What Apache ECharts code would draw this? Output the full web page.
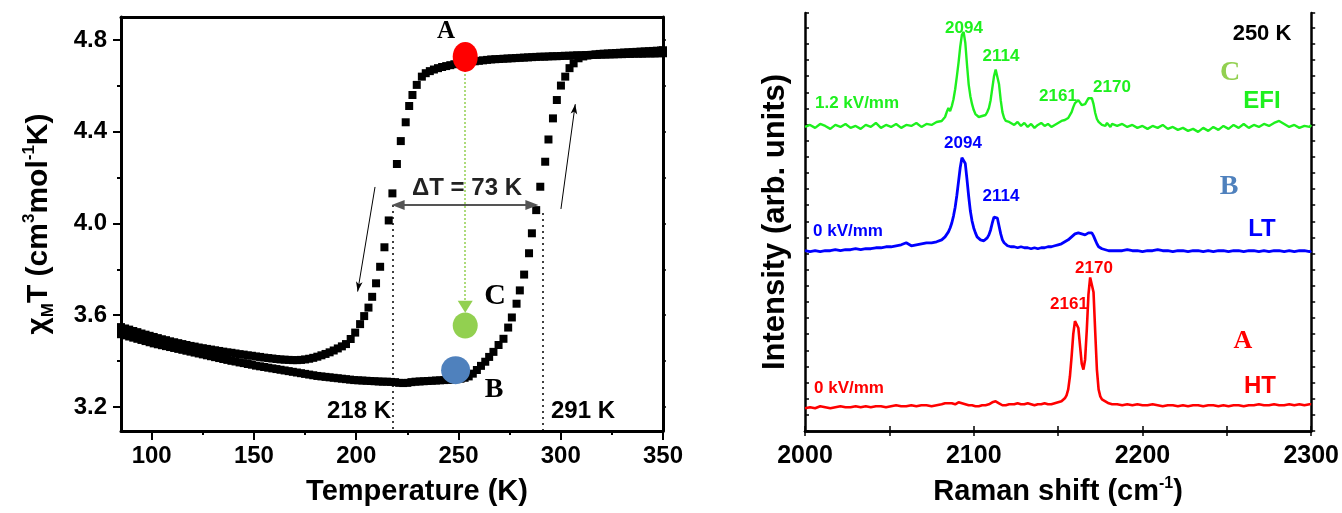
<!DOCTYPE html>
<html><head><meta charset="utf-8">
<script src="https://cdn.jsdelivr.net/npm/echarts@6/dist/echarts.min.js"></script>
<style>html,body{margin:0;padding:0;background:#fff}#c{width:1342px;height:513px}</style>
</head><body><div id="c"></div>
<script>
// ===== Left panel: chi_M T vs T (hysteresis) =====
const coolingBranch = [
[85,3.548],[87,3.542],[89,3.537],[91,3.531],[93,3.526],[95,3.520],[97,3.515],[99,3.510],[101,3.505],[103,3.500],
[105,3.495],[107,3.491],[109,3.486],[111,3.482],[113,3.478],[115,3.474],[117,3.470],[119,3.466],[121,3.463],[123,3.459],
[125,3.456],[127,3.453],[129,3.450],[131,3.447],[133,3.444],[135,3.441],[137,3.438],[139,3.436],[141,3.433],[143,3.430],
[145,3.428],[147,3.425],[149,3.423],[151,3.420],[153,3.418],[155,3.415],[157,3.413],[159,3.411],[161,3.409],[163,3.407],
[165,3.406],[167,3.405],[169,3.404],[171,3.404],[173,3.405],[175,3.407],[177,3.410],[179,3.414],[181,3.419],[183,3.425],
[185,3.431],[187,3.438],[189,3.446],[191,3.455],[193,3.464],[195,3.474],[197.3,3.496],[199.5,3.524],[201.9,3.561],[203.9,3.596],
[206.0,3.633],[207.8,3.680],[209.7,3.739],[211.7,3.811],[213.8,3.896],[215.9,4.013],[217.7,4.131],[219.9,4.259],[221.8,4.359],[224.2,4.441],
[225.9,4.512],[227.5,4.560],[229.6,4.604],[232.1,4.640],[234,4.655],[236,4.664],[238,4.671],[240,4.677],[242,4.682],[244,4.686],
[246,4.690],[248,4.694],[250,4.697],[252,4.700],[254,4.703],[256,4.705],[258,4.707],[260,4.709],[262,4.711],[264,4.713],
[266,4.715],[268,4.716],[270,4.717],[272,4.718],[274,4.719],[276,4.720],[278,4.721],[280,4.722],[282,4.723],[284,4.724],
[286,4.725],[288,4.726],[290,4.727],[292,4.727],[294,4.728],[296,4.729],[298,4.729],[300,4.730],[302,4.731],[304,4.731],
[306,4.732],[308,4.733],[310,4.733],[312,4.734],[314,4.734],[316,4.735],[318,4.735],[320,4.736],[322,4.736],[324,4.737],
[326,4.737],[328,4.738],[330,4.738],[332,4.739],[334,4.739],[336,4.740],[338,4.740],[340,4.740],[342,4.741],[344,4.741],
[346,4.741],[348,4.742],[350,4.742]
];
const heatingBranch = [
[85,3.517],[87,3.512],[89,3.507],[91,3.502],[93,3.497],[95,3.492],[97,3.487],[99,3.482],[101,3.477],[103,3.473],
[105,3.469],[107,3.465],[109,3.461],[111,3.457],[113,3.453],[115,3.449],[117,3.445],[119,3.441],[121,3.437],[123,3.433],
[125,3.429],[127,3.425],[129,3.421],[131,3.417],[133,3.413],[135,3.409],[137,3.405],[139,3.401],[141,3.398],[143,3.394],
[145,3.391],[147,3.387],[149,3.384],[151,3.380],[153,3.377],[155,3.374],[157,3.371],[159,3.368],[161,3.365],[163,3.362],
[165,3.359],[167,3.356],[169,3.353],[171,3.350],[173,3.347],[175,3.344],[177,3.341],[179,3.338],[181,3.335],[183,3.333],
[185,3.331],[187,3.329],[189,3.327],[191,3.325],[193,3.323],[195,3.321],[197,3.319],[199,3.317],[201,3.316],[203,3.315],
[205,3.314],[207,3.313],[209,3.312],[211,3.311],[213,3.310],[215,3.310],[217,3.309],[219,3.308],[221,3.305],[223,3.304],
[225,3.305],[227,3.308],[229,3.310],[231,3.311],[233,3.312],[235,3.313],[237,3.314],[239,3.315],[241,3.316],[243,3.317],
[245,3.318],[247,3.319],[249,3.321],[251,3.323],[253,3.327],[255,3.333],[257,3.345],[259,3.361],[261,3.379],[263.1,3.397],
[265,3.418],[267.1,3.440],[269.6,3.470],[272,3.497],[274.3,3.546],[276.1,3.590],[278.4,3.650],[280,3.708],[282.1,3.777],[284.5,3.870],
[285.9,3.957],[288,4.058],[290,4.160],[292.4,4.269],[294,4.366],[296.2,4.458],[298.1,4.538],[300.1,4.601],[302.2,4.640],[304.3,4.677],
[306.3,4.698],[308.7,4.720],[311,4.728],[313,4.732],[315,4.735],[317,4.737],[319,4.739],[321,4.740],[323,4.741],[325,4.742],
[327,4.743],[329,4.744],[331,4.745],[333,4.746],[335,4.747],[337,4.748],[339,4.749],[341,4.750],[343,4.751],[345,4.752],
[347,4.753],[349,4.754],[350,4.755]
];
// states A (HT), B (LT), C (EFI) marked on the loop
const statePoints = [
  {name:'A', T:253.3, chi:4.726, color:'#ff0000', size:[25,30]},
  {name:'B', T:248.6, chi:3.360, color:'#4f81bd', size:[29,28]},
  {name:'C', T:253.3, chi:3.555, color:'#92d050', size:[25,26]}
];
const tempTicks = [100,150,200,250,300,350];
const tempMinorTicks = [125,175,225,275,325];
const chiTicks = [3.2,3.6,4.0,4.4,4.8];
const chiMinorTicks = [3.4,3.8,4.2,4.6];
const chiRightTicks = [3.2,3.4,3.6,3.8,4.0,4.2,4.4,4.6,4.8];
const transitionTemps = [218,291]; // T1/2 down, T1/2 up

// ===== Right panel: Raman spectra at 250 K =====
const ramanShift = [
2000,2003,2006,2009,2012,2015,2018,2021,2024,2027,2030,2033,2036,2039,2042,2045,2048,2051,2054,2057,2060,2063,2066,2069,2072,2075,2078,2081,
2082,2083,2084,2085,2086,2087,2088,2089,2090,2091,2092,2093,2094,2095,2096,2097,2098,2099,2100,2101,2102,2103,2104,2105,2106,2107,2108,2109,2110,2111,2112,2113,2114,2115,2116,2117,2118,2119,2120,2121,2122,
2124,2126,2128,2130,2132,2134,2136,2138,2140,2142,2144,2146,2148,2150,2152,
2153,2154,2155,2156,2157,2158,2159,2160,2161,2162,2163,2164,2165,2166,2167,2168,2169,2170,2171,2172,2173,2174,2175,2176,2177,2178,2179,2180,2181,2182,
2185,2188,2191,2194,2197,2200,2203,2206,2209,2212,2215,2218,2221,2224,2227,2230,2233,2236,2239,2242,2245,2248,2251,2254,2257,2260,2263,2266,2269,2272,2275,2278,2281,2284,2287,2290,2293,2296,2299,2300
];
const efiIntensity = [
307,309,306,310,308,305,309,307,310,306,308,305,309,307,311,306,309,307,310,306,309,308,311,307,310,309,312,313,
314,317,322,326,323,328,335,345,358,372,388,400,403,392,370,350,338,330,324,320,318,317,316,318,317,319,322,326,334,346,358,365,363,350,334,322,316,313,311,312,310,
309,312,308,311,307,310,306,309,311,308,310,307,309,311,313,
312,314,313,316,318,322,327,331,333,334,332,329,328,330,333,336,337,336,330,321,315,312,312,309,310,308,311,309,307,310,
308,310,307,309,306,308,305,308,306,309,305,307,304,306,303,305,302,306,303,307,304,308,305,309,306,310,306,309,307,310,308,311,313,310,307,309,306,308,307,309
];
const ltIntensity = [
182,181,182,181,182,182,183,182,183,183,184,183,184,184,185,185,186,186,187,188,190,187,188,189,190,190,191,193,
194,196,198,201,205,210,217,226,238,252,266,276,278,270,254,237,222,212,205,200,196,194,193,192,192,193,195,198,203,210,216,218,215,207,199,193,190,188,187,187,186,
186,185,186,185,185,184,185,184,185,185,186,186,187,188,189,
190,191,192,193,195,196,198,199,200,200,199,199,199,198,199,200,201,200,197,193,189,186,185,184,183,183,183,182,182,182,
182,182,183,182,182,181,182,182,183,182,182,181,182,182,181,182,182,181,182,181,182,182,181,182,182,181,182,182,181,182,181,182,182,181,182,181,182,182,181,182
];
const htIntensity = [
23,24,23,25,24,23,24,25,24,24,25,24,25,24,25,25,24,25,26,25,25,26,25,26,26,25,26,27,
27,28,27,28,29,28,28,27,28,29,28,28,27,27,26,26,25,26,25,25,26,25,25,26,25,26,27,27,28,29,29,30,29,28,27,26,27,26,26,27,27,
27,28,27,27,28,27,26,27,27,28,27,27,28,29,30,
31,33,36,42,55,75,98,111,113,104,86,68,62,72,102,138,155,157,140,100,62,42,35,32,31,30,29,28,28,27,
27,26,27,26,27,26,26,27,26,25,26,26,25,26,25,26,26,25,26,26,25,26,25,26,26,25,26,26,27,26,26,27,26,26,27,26,27,26,27,27
];
const ramanTicks = [2000,2100,2200,2300];
const ramanMinorTicks = [2000,2050,2100,2150,2200,2250,2300];

// ===== build =====
const SANS = '"Liberation Sans", Arial, sans-serif';
const SERIF = '"Liberation Serif", "Times New Roman", serif';
const GREEN = '#1ef01e', BLUE = '#0000ff', RED = '#ff0000';
const zip = (xs, ys) => xs.map((x, i) => [x, ys[i]]);
const chart = echarts.init(document.getElementById('c'));

const boldLabel = (size) => ({fontSize:size, fontWeight:'bold', color:'#000', fontFamily:SANS});
const arrowLine = {color:'#000', width:1, type:'solid'};

const option = {
  animation:false,
  backgroundColor:'#fff',
  grid:[
    {left:121, top:17, width:542, height:414},
    {left:805, top:13, width:507, height:422}
  ],
  xAxis:[
    {gridIndex:0, type:'value', min:85, max:350, position:'bottom',
     axisLine:{lineStyle:{color:'#000', width:3}},
     axisTick:{customValues:tempTicks, length:9, lineStyle:{color:'#000', width:2}},
     axisLabel:Object.assign({customValues:tempTicks, margin:13, formatter:v=>String(v)}, boldLabel(24)),
     splitLine:{show:false},
     name:'Temperature (K)', nameLocation:'middle', nameGap:46,
     nameTextStyle:Object.assign({padding:[0,0,0,50]}, boldLabel(29))},
    {gridIndex:0, type:'value', min:85, max:350, position:'bottom', offset:0,
     axisLine:{show:false},
     axisTick:{customValues:tempMinorTicks, length:4, lineStyle:{color:'#000', width:2}},
     axisLabel:{show:false}, splitLine:{show:false}},
    {gridIndex:0, type:'value', min:85, max:350, position:'top',
     axisLine:{lineStyle:{color:'#000', width:3}},
     axisTick:{show:false}, axisLabel:{show:false}, splitLine:{show:false}},
    {gridIndex:1, type:'value', min:2000, max:2300, position:'bottom',
     axisLine:{lineStyle:{color:'#000', width:2.5}},
     axisTick:{inside:true, customValues:ramanMinorTicks, length:5, lineStyle:{color:'#000', width:1.5}},
     axisLabel:Object.assign({customValues:ramanTicks, margin:13, formatter:v=>String(v)}, boldLabel(25)),
     splitLine:{show:false},
     name:'Raman shift (cm{sup|-1})', nameLocation:'middle', nameGap:45,
     nameTextStyle:Object.assign({lineHeight:32, rich:{sup:{fontSize:16, fontWeight:'bold', fontFamily:SANS, color:'#000', verticalAlign:'top', lineHeight:32}}}, boldLabel(29))},
    {gridIndex:1, type:'value', min:2000, max:2300, position:'top',
     axisLine:{lineStyle:{color:'#000', width:2.5}},
     axisTick:{inside:true, customValues:ramanMinorTicks, length:5, lineStyle:{color:'#000', width:1.5}},
     axisLabel:{show:false}, splitLine:{show:false}}
  ],
  yAxis:[
    {gridIndex:0, type:'value', min:3.095, max:4.9, position:'left',
     axisLine:{show:true, lineStyle:{color:'#000', width:3}},
     axisTick:{show:true, customValues:chiTicks, length:8, lineStyle:{color:'#000', width:2}},
     axisLabel:Object.assign({customValues:chiTicks, margin:14, formatter:v=>Number(v).toFixed(1)}, boldLabel(24)),
     splitLine:{show:false},
     name:'χ{sub|M}T (cm{sup|3}mol{sup|-1}K)', nameLocation:'middle', nameGap:64,
     nameTextStyle:Object.assign({lineHeight:36, rich:{
       sub:{fontSize:17, fontWeight:'bold', fontFamily:SANS, color:'#000', verticalAlign:'bottom', lineHeight:36},
       sup:{fontSize:17, fontWeight:'bold', fontFamily:SANS, color:'#000', verticalAlign:'top', lineHeight:36}}}, boldLabel(30))},
    {gridIndex:0, type:'value', min:3.095, max:4.9, position:'left', offset:0,
     axisLine:{show:false},
     axisTick:{show:true, customValues:chiMinorTicks, length:4, lineStyle:{color:'#000', width:2}},
     axisLabel:{show:false}, splitLine:{show:false}},
    {gridIndex:0, type:'value', min:3.095, max:4.9, position:'right',
     axisLine:{show:true, lineStyle:{color:'#000', width:3}},
     axisTick:{show:true, customValues:chiRightTicks, length:3, lineStyle:{color:'#000', width:1.5}},
     axisLabel:{show:false}, splitLine:{show:false}},
    {gridIndex:1, type:'value', min:0, max:422, interval:16.28, position:'left',
     axisLine:{show:true, lineStyle:{color:'#000', width:2.5}},
     axisTick:{show:true, inside:true, length:4, lineStyle:{color:'#000', width:1.5}},
     axisLabel:{show:false}, splitLine:{show:false},
     name:'Intensity (arb. units)', nameLocation:'middle', nameGap:14,
     nameTextStyle:boldLabel(31)},
    {gridIndex:1, type:'value', min:0, max:422, interval:16.28, position:'right',
     axisLine:{show:true, lineStyle:{color:'#000', width:2.5}},
     axisTick:{show:true, length:4, lineStyle:{color:'#000', width:1.5}},
     axisLabel:{show:false}, splitLine:{show:false}}
  ],
  series:[
    {type:'scatter', name:'cooling', xAxisIndex:0, yAxisIndex:0, data:coolingBranch,
     symbol:'rect', symbolSize:8, itemStyle:{color:'#000', opacity:1}, z:2, silent:true,
     markLine:{silent:true, animation:false, label:{show:false}, precision:3, data:[
       [{coord:[transitionTemps[0],4.08], symbol:'none', lineStyle:{color:'#000', width:1.5, type:[2,4]}}, {coord:[transitionTemps[0],3.095], symbol:'none'}],
       [{coord:[transitionTemps[1],4.045], symbol:'none', lineStyle:{color:'#000', width:1.5, type:[2,4]}}, {coord:[transitionTemps[1],3.095], symbol:'none'}],
       [{coord:[220.5,4.08], symbol:'triangle', symbolSize:[10,13], lineStyle:{color:'#555', width:2, type:'solid'}}, {coord:[285.9,4.08], symbol:'triangle', symbolSize:[10,13]}],
       [{coord:[209.2,4.159], symbol:'none', lineStyle:arrowLine}, {coord:[200.7,3.703], symbol:'arrow', symbolSize:[5,10]}],
       [{coord:[300.1,4.063], symbol:'none', lineStyle:arrowLine}, {coord:[307.1,4.52], symbol:'arrow', symbolSize:[5,10]}],
       [{coord:[253.3,4.669], symbol:'none', lineStyle:{color:'#92d050', width:1.5, type:[2,2]}}, {coord:[253.3,3.637], symbol:'triangle', symbolSize:[15,12], itemStyle:{color:'#92d050'}}]
     ]}},
    {type:'scatter', name:'heating', xAxisIndex:0, yAxisIndex:0, data:heatingBranch,
     symbol:'rect', symbolSize:8, itemStyle:{color:'#000', opacity:1}, z:2, silent:true},
    {type:'scatter', name:'states', xAxisIndex:0, yAxisIndex:0, z:5, silent:true,
     data:statePoints.map(p => ({value:[p.T, p.chi], symbolSize:p.size, itemStyle:{color:p.color, opacity:1}}))},
    {type:'line', name:'EFI', xAxisIndex:3, yAxisIndex:3, data:zip(ramanShift, efiIntensity),
     showSymbol:false, symbol:'none', lineStyle:{color:GREEN, width:2.4}, silent:true},
    {type:'line', name:'LT', xAxisIndex:3, yAxisIndex:3, data:zip(ramanShift, ltIntensity),
     showSymbol:false, symbol:'none', lineStyle:{color:BLUE, width:2.8}, silent:true},
    {type:'line', name:'HT', xAxisIndex:3, yAxisIndex:3, data:zip(ramanShift, htIntensity),
     showSymbol:false, symbol:'none', lineStyle:{color:RED, width:2.6}, silent:true}
  ],
  graphic:[]
};

function txt(text, x, y, font, color, align) {
  return {type:'text', x:x, y:y, silent:true, z:100,
    style:{text:text, font:font, fill:color, align:align||'center', verticalAlign:'middle',
           textAlign:align||'center', textVerticalAlign:'middle'}};
}
const bold = (s) => 'bold ' + s + 'px ' + SANS;
const serif = (s) => 'bold ' + s + 'px ' + SERIF;
option.graphic = [
  // left panel annotations
  txt('A', 446, 32, serif(25), '#000'),
  txt('C', 495, 296, serif(30), '#000'),
  txt('B', 494, 390, serif(28), '#000'),
  txt('ΔT = 73 K', 467, 188, bold(24), '#222'),
  txt('218 K', 391, 411, bold(24), '#000', 'right'),
  txt('291 K', 551, 411, bold(24), '#000', 'left'),
  // right panel annotations
  txt('250 K', 1262, 34, bold(22), '#000'),
  txt('2094', 964, 28, bold(17), GREEN),
  txt('2114', 1001, 56, bold(17), GREEN),
  txt('2161', 1058, 96, bold(17), GREEN),
  txt('2170', 1112, 87, bold(17), GREEN),
  txt('1.2 kV/mm', 815, 103, bold(17), GREEN, 'left'),
  txt('C', 1230, 73, serif(28), '#92d050'),
  txt('EFI', 1262, 101, bold(24), GREEN),
  txt('2094', 963, 143, bold(17), BLUE),
  txt('2114', 1001, 196, bold(17), BLUE),
  txt('0 kV/mm', 813, 231, bold(17), BLUE, 'left'),
  txt('B', 1229, 187, serif(28), '#4f81bd'),
  txt('LT', 1262, 229, bold(24), BLUE),
  txt('2170', 1094, 268, bold(17), RED),
  txt('2161', 1069, 304, bold(17), RED),
  txt('0 kV/mm', 814, 388, bold(17), RED, 'left'),
  txt('A', 1243, 341, serif(26), RED),
  txt('HT', 1260, 386, bold(24), RED)
];
chart.setOption(option);
</script>
</body></html>
